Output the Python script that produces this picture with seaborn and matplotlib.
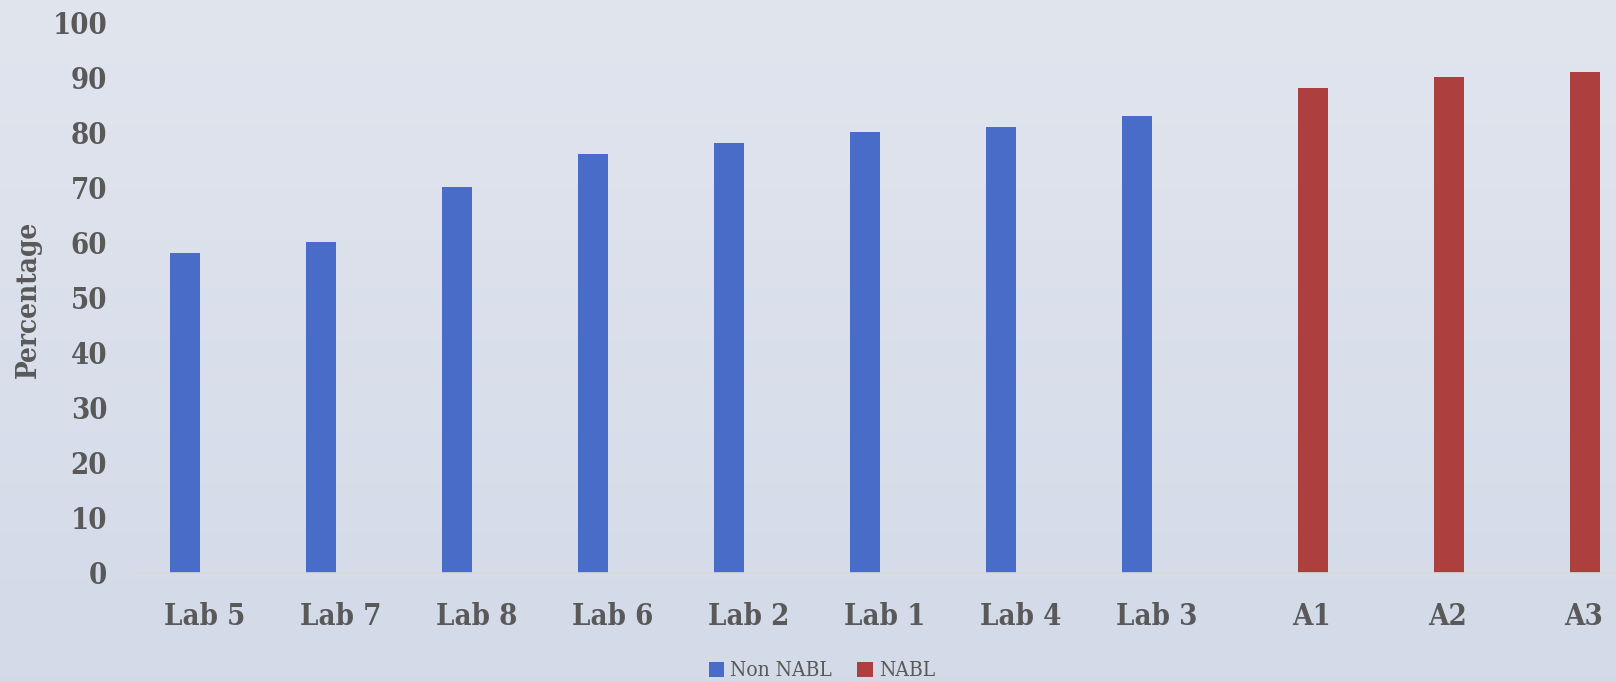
import numpy as np
import pandas as pd
import matplotlib
matplotlib.use("Agg")
from matplotlib import pyplot as plt
from matplotlib.transforms import ScaledTranslation
import seaborn as sns

# 데이터
labs = ['Lab 5', 'Lab 7', 'Lab 8', 'Lab 6', 'Lab 2', 'Lab 1', 'Lab 4', 'Lab 3', 'A1', 'A2', 'A3']
percent = [58, 60, 70, 76, 78, 80, 81, 83, 88, 90, 91]
group = ['Non NABL'] * 8 + ['NABL'] * 3
df = pd.DataFrame({'lab': labs, 'percent': percent, 'group': group})

blue = '#4a6cc9'
red = '#ad3f3f'
grey = '#595959'

sns.set_style('white')
plt.rcParams['font.family'] = ['DejaVu Serif']
plt.rcParams['font.stretch'] = 'condensed'

fig = plt.figure(figsize=(16.16, 6.82), dpi=100)

# 배경 그라데이션
bg = fig.add_axes([0, 0, 1, 1], zorder=-10)
grad = np.linspace(0, 1, 256).reshape(-1, 1)
top = np.array([0.882, 0.898, 0.933])
bot = np.array([0.827, 0.855, 0.910])
img = top + (bot - top) * grad[:, :, None]
bg.imshow(img, aspect='auto', extent=[0, 1, 0, 1])
bg.axis('off')

W, H = 1616, 682
ax = fig.add_axes([137 / W, (H - 573) / H, 1496 / W, (573 - 22) / H])
ax.set_facecolor('none')

sns.barplot(data=df, x='lab', y='percent', hue='group', hue_order=['Non NABL', 'NABL'],
            palette=[blue, red], dodge=True, width=0.59, gap=0.25, ax=ax,
            order=labs, saturation=1, linewidth=0)

ax.set_ylim(0, 100)
ax.set_yticks(range(0, 101, 10))
ax.set_xlim(-0.5, len(labs) - 0.5)
sns.despine(ax=ax, left=True, top=True, right=True)
ax.spines['bottom'].set_color('#d9d9d9')
ax.spines['bottom'].set_linewidth(1.2)
ax.tick_params(axis='both', length=0, colors=grey, labelsize=21)
ax.tick_params(axis='y', pad=21.5)
ax.tick_params(axis='x', pad=21)
for t in ax.get_xticklabels() + ax.get_yticklabels():
    t.set_fontweight('bold')
for t in ax.get_xticklabels()[8:]:
    t.set_transform(t.get_transform() + ScaledTranslation(0.19, 0, fig.dpi_scale_trans))

ax.set_xlabel('')
ax.set_ylabel('Percentage', fontsize=20, fontweight='bold', color=grey)
ax.yaxis.set_label_coords((42 - 137) / 1496, (573 - 299) / 551)

sns.move_legend(ax, 'center', bbox_to_anchor=(822 / W, 11 / H), bbox_transform=fig.transFigure,
                ncol=2, frameon=False, title=None, fontsize=15, handlelength=0.75,
                handleheight=0.75, handletextpad=0.3, columnspacing=1.2, labelcolor=grey)

fig.savefig('out.png', dpi=100)
